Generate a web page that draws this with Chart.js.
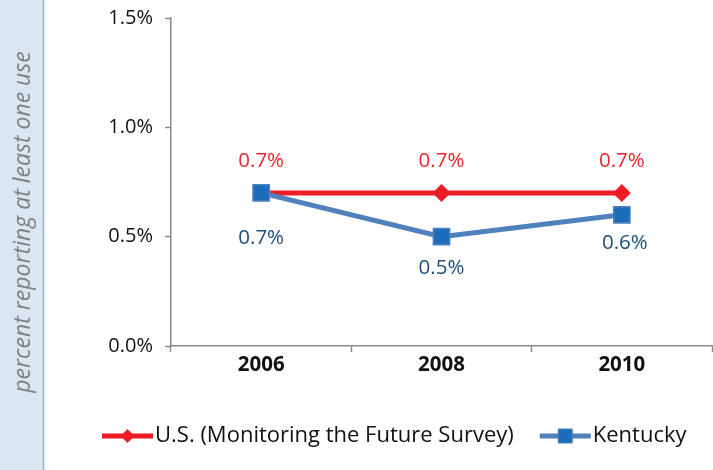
<!DOCTYPE html>
<html>
<head>
<meta charset="utf-8">
<script src="https://cdn.jsdelivr.net/npm/chart.js@4/dist/chart.umd.min.js"></script>
<style>
  html, body { margin: 0; padding: 0; background: #fff; }
  #wrap { position: relative; width: 713px; height: 470px; }
</style>
</head>
<body>
<div id="wrap"><canvas id="chart"></canvas></div>
<script>
const years = ['2006', '2008', '2010'];
const usValues = [0.7, 0.7, 0.7];
const kentuckyValues = [0.7, 0.5, 0.6];
const yTickValues = [0, 0.5, 1.0, 1.5];
const yTitle = 'percent reporting at least one use';
const seriesNames = ['U.S. (Monitoring the Future Survey)', 'Kentucky'];

const FONT = '"Open Sans", "DejaVu Sans", sans-serif';
const US_RED = '#ee1c25';
const KY_BLUE = '#4f81bd';
const AXIS_GREY = '#898989';

const pct = (v) => v.toFixed(1) + '%';

// light blue side strip with the rotated axis title
const sidePanel = {
    id: 'sidePanel',
    beforeDraw(chart) {
        const { ctx, height } = chart;
        ctx.save();
        ctx.fillStyle = '#dbe6f3';
        ctx.fillRect(0, 0, 43, height);
        ctx.strokeStyle = '#8fb3df';
        ctx.lineWidth = 1.5;
        ctx.beginPath();
        ctx.moveTo(43.5, 0);
        ctx.lineTo(43.5, height);
        ctx.stroke();
        ctx.translate(23, 222);
        ctx.rotate(-Math.PI / 2);
        ctx.font = 'italic 23px ' + FONT;
        ctx.fillStyle = '#7f7f7f';
        ctx.textAlign = 'center';
        ctx.textBaseline = 'middle';
        ctx.fillText(yTitle, 0, 0);
        ctx.restore();
    },
};

// value labels next to every point
const valueLabels = {
    id: 'valueLabels',
    afterDatasetsDraw(chart) {
        const { ctx } = chart;
        ctx.save();
        ctx.font = '20.5px ' + FONT;
        ctx.textAlign = 'center';
        ctx.textBaseline = 'middle';
        chart.data.datasets.forEach((ds, i) => {
            const meta = chart.getDatasetMeta(i);
            ctx.fillStyle = ds.labelColor;
            meta.data.forEach((pt, j) => {
                const [dx, dy] = ds.labelOffsets[j];
                ctx.fillText(pct(ds.data[j]), pt.x + dx, pt.y + dy);
            });
        });
        ctx.restore();
    },
};

// legend row: line with marker, then the series name
const lineLegend = {
    id: 'lineLegend',
    afterDraw(chart) {
        const { ctx } = chart;
        const y = 436;
        let x = 102;
        ctx.save();
        ctx.font = '22px ' + FONT;
        ctx.textBaseline = 'middle';
        chart.data.datasets.forEach((ds) => {
            const lineLen = 51;
            const mid = x + lineLen / 2;
            ctx.strokeStyle = ds.borderColor;
            ctx.lineWidth = 5;
            ctx.beginPath();
            ctx.moveTo(x, y);
            ctx.lineTo(x + lineLen, y);
            ctx.stroke();
            ctx.fillStyle = ds.pointBackgroundColor;
            ctx.beginPath();
            if (ds.pointStyle === 'rectRot') {
                ctx.moveTo(mid - 7, y);
                ctx.lineTo(mid, y - 7);
                ctx.lineTo(mid + 7, y);
                ctx.lineTo(mid, y + 7);
                ctx.closePath();
                ctx.fill();
            } else {
                ctx.rect(mid - 7, y - 7, 14, 14);
                ctx.fill();
                ctx.strokeStyle = ds.pointBorderColor;
                ctx.lineWidth = 1;
                ctx.stroke();
            }
            ctx.fillStyle = '#111';
            ctx.textAlign = 'left';
            ctx.fillText(ds.label, x + lineLen + 2, y);
            x += lineLen + 2 + ctx.measureText(ds.label).width + 26;
        });
        ctx.restore();
    },
};

new Chart(document.getElementById('chart'), {
    type: 'line',
    data: {
        labels: years,
        datasets: [
            {
                label: seriesNames[0],
                data: usValues,
                order: 1,
                borderColor: US_RED,
                borderWidth: 5,
                pointStyle: 'rectRot',
                pointRadius: 9,
                pointBackgroundColor: US_RED,
                pointBorderColor: US_RED,
                pointBorderWidth: 0,
                labelColor: '#e8262d',
                labelOffsets: [[0, -32], [0, -32], [0, -32]],
            },
            {
                label: seriesNames[1],
                data: kentuckyValues,
                order: 0,
                borderColor: KY_BLUE,
                borderWidth: 5,
                pointStyle: 'rect',
                pointRadius: 11.5,
                pointBackgroundColor: '#1c6cba',
                pointBorderColor: KY_BLUE,
                pointBorderWidth: 1.5,
                labelColor: '#1f4e7a',
                labelOffsets: [[0, 45], [0, 31], [3, 28]],
            },
        ],
    },
    options: {
        responsive: true,
        maintainAspectRatio: false,
        animation: false,
        layout: {
            autoPadding: false,
            padding: { top: 18, right: 1, left: 0, bottom: 0 },
        },
        plugins: {
            legend: { display: false },
            tooltip: { enabled: false },
        },
        scales: {
            x: {
                offset: true,
                grid: {
                    offset: true,
                    drawOnChartArea: false,
                    drawTicks: true,
                    tickLength: 6,
                    tickWidth: 1.5,
                    tickColor: AXIS_GREY,
                },
                border: { color: AXIS_GREY, width: 1.5 },
                ticks: {
                    font: { family: FONT, size: 20.5, weight: 'bold' },
                    color: '#111',
                    padding: 1,
                    maxRotation: 0,
                },
                afterFit: (s) => {
                    s.height = 124;
                    s.paddingLeft = 0;
                    s.paddingRight = 0;
                },
            },
            y: {
                min: 0,
                max: 1.5,
                grid: {
                    drawOnChartArea: false,
                    tickLength: 6,
                    tickWidth: 1.5,
                    tickColor: AXIS_GREY,
                },
                border: { color: AXIS_GREY, width: 1.5 },
                afterBuildTicks: (s) => { s.ticks = yTickValues.map((v) => ({ value: v })); },
                ticks: {
                    font: { family: FONT, size: 20 },
                    color: '#111',
                    padding: 12,
                    callback: (v) => pct(v),
                },
                afterFit: (s) => {
                    s.width = 171;
                    s.paddingTop = 0;
                    s.paddingBottom = 0;
                },
            },
        },
    },
    plugins: [sidePanel, valueLabels, lineLegend],
});
</script>
</body>
</html>
